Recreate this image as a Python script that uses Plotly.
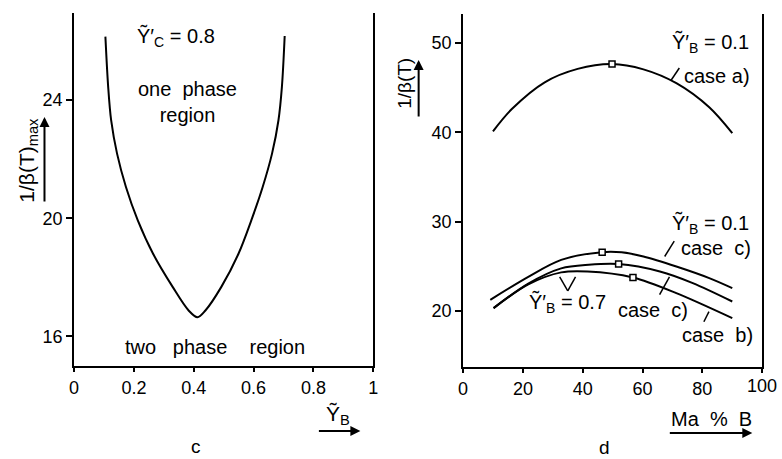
import plotly.graph_objects as go

W, H = 782, 459

# ---------- panel c : 1/beta(T)_max vs Y_B ----------
yb_c = [0.1046, 0.1139, 0.1238, 0.1436, 0.1733, 0.2129, 0.264, 0.330, 0.3828, 0.4125,
        0.4389, 0.4917, 0.5495, 0.5924, 0.6304, 0.6617, 0.6832, 0.6947, 0.704]
beta_max = [26.15, 24.45, 23.32, 22.19, 21.06, 19.93, 18.80, 17.67, 16.88, 16.65,
            16.88, 17.67, 18.80, 19.93, 21.06, 22.19, 23.32, 24.45, 26.17]
xticks_c = [0, 0.2, 0.4, 0.6, 0.8, 1]
yticks_c = [16, 20, 24]

# ---------- panel d : 1/beta(T) vs Ma % B ----------
ma_a = [10, 16.3, 27.3, 38.3, 49.8, 60.3, 71.3, 82.3, 90]
beta_a = [40.1, 42.6, 45.6, 47.1, 47.65, 47.05, 45.5, 42.8, 39.9]

ma_c1 = [9.1, 21.8, 32.8, 46.5, 53.0, 60.3, 71.3, 82.3, 90]
beta_c1 = [21.23, 23.8, 25.7, 26.57, 26.55, 26.08, 24.96, 23.66, 22.54]

ma_c7 = [10.2, 21.8, 32.8, 42.0, 52.0, 65.8, 76.8, 90]
beta_c7 = [20.3, 23.05, 24.75, 25.15, 25.23, 24.4, 23.1, 21.04]

ma_b = [10.2, 21.8, 32.8, 41.6, 56.8, 71.3, 90]
beta_b = [20.3, 22.95, 24.3, 24.4, 23.73, 21.98, 19.18]

peak_ma = [49.8, 46.5, 52.0, 56.8]
peak_beta = [47.65, 26.57, 25.23, 23.73]

xticks_d = [0, 20, 40, 60, 80, 100]
xlabels_d = ["0", "20", "40", "60", "80", "100"]
yticks_d = [20, 30, 40, 50]

FONT = "Liberation Sans"
fig = go.Figure()
line = dict(color="black", width=2, shape="spline", smoothing=0.9)

fig.add_trace(go.Scatter(x=yb_c, y=beta_max, mode="lines", line=line, xaxis="x", yaxis="y"))
for xs, ys in [(ma_a, beta_a), (ma_c1, beta_c1), (ma_c7, beta_c7), (ma_b, beta_b)]:
    fig.add_trace(go.Scatter(x=xs, y=ys, mode="lines", line=line, xaxis="x2", yaxis="y2"))
fig.add_trace(go.Scatter(x=peak_ma, y=peak_beta, mode="markers",
                         marker=dict(symbol="square", size=6, color="white",
                                     line=dict(color="black", width=1.5)),
                         xaxis="x2", yaxis="y2"))

axis_common = dict(showline=True, linecolor="black", linewidth=2, showgrid=False,
                   zeroline=False, ticks="outside", tickcolor="black", tickwidth=1.5,
                   ticklabeloverflow="allow")

def tf(size):
    return dict(family=FONT, size=size, color="black")

def px(x):
    return x / W

def py(y):
    return 1 - y / H

# last x label of panel d is placed as an annotation (the axis hides it at the page edge)
fig.update_layout(
    width=W, height=H, autosize=False, margin=dict(l=0, r=0, t=0, b=0, pad=0),
    paper_bgcolor="white", plot_bgcolor="white", showlegend=False,
    xaxis=dict(domain=[px(70), px(373)], range=[0, 1], tickvals=xticks_c,
               ticklen=4, anchor="y", tickfont=tf(18), **axis_common),
    yaxis=dict(domain=[py(366), py(13)], range=[15, 26.95], tickvals=yticks_c,
               ticklen=6, anchor="x", mirror=True, tickfont=tf(18), **axis_common),
    xaxis2=dict(domain=[px(464), px(767)], range=[0, 100], tickvals=xticks_d,
                ticktext=xlabels_d[:-1] + [""],
                ticklen=4, anchor="y2", tickfont=tf(18), **axis_common),
    yaxis2=dict(domain=[py(367), py(14)], range=[13.7, 53.25], tickvals=yticks_d,
                ticklen=6, anchor="x2", mirror=True, tickfont=tf(18), **axis_common),
)

NB = "\u00a0"
ann = []

def text(x, y, t, size=20, xref="paper", yref="paper", angle=0, xanchor="center"):
    ann.append(dict(x=x, y=y, xref=xref, yref=yref, text=t, showarrow=False,
                    xanchor=xanchor, yanchor="middle", textangle=angle,
                    font=tf(size), borderpad=0))

def arrow(hx, hy, tx, ty):
    ann.append(dict(x=px(hx), y=py(hy), xref="paper", yref="paper", text="",
                    showarrow=True, ax=tx - hx, ay=ty - hy, axref="pixel", ayref="pixel",
                    arrowhead=2, arrowsize=1, arrowwidth=2, arrowcolor="black",
                    standoff=0, startstandoff=0))

# panel c texts
text(0.34, 26.14, "Ỹ′<sub>C</sub> = 0.8", xref="x", yref="y")
text(0.38, 23.93, "one" + NB + " phase<br>region", xref="x", yref="y")
text(0.472, 15.63, "two" + NB * 2 + " phase" + NB * 3 + " region", xref="x", yref="y")
text(px(23), py(160), "1/β(T)<sub>max</sub>", size=21, angle=-90)
arrow(40, 117, 40, 203)
text(px(337), py(415), "Ỹ<sub>B</sub>", size=21)
arrow(360, 431, 317, 431)
text(px(193), py(446), "c", size=19)

# panel d texts
text(xticks_d[-1], py(386), xlabels_d[-1], size=18, xref="x2")
text(82.8, 50.0, "Ỹ′<sub>B</sub> = 0.1", xref="x2", yref="y2")
text(84.8, 46.3, "case a)", xref="x2", yref="y2")
text(82.8, 29.74, "Ỹ′<sub>B</sub> = 0.1", xref="x2", yref="y2")
text(84.5, 27.05, "case" + NB + " c)", xref="x2", yref="y2")
text(63.4, 20.1, "case" + NB + " c)", xref="x2", yref="y2")
text(85.1, 17.3, "case" + NB + " b)", xref="x2", yref="y2")
text(35.0, 20.9, "Ỹ′<sub>B</sub> = 0.7", xref="x2", yref="y2")
text(px(404), py(83), "1/β(T)", size=19, angle=-90)
arrow(419, 60, 419, 118)
text(px(716), py(419), "Ma" + NB + " %" + NB + " B", size=20)
arrow(757, 433, 673, 433)
text(px(607), py(447), "d", size=19)

fig.update_layout(annotations=ann)

# pointer strokes
pointers = [
    (69.6, 45.86, 72.3, 47.2),
    (67.4, 26.08, 70.6, 27.8),
    (65.7, 21.8, 69.0, 23.8),
    (80.5, 18.77, 82.2, 19.9),
    (32.3, 23.8, 35.0, 22.24),
    (37.6, 23.8, 35.0, 22.24),
]
fig.update_layout(shapes=[dict(type="line", xref="x2", yref="y2", x0=a, y0=b, x1=c, y1=d,
                               line=dict(color="black", width=1.5)) for a, b, c, d in pointers])

fig.write_html("out.html")
